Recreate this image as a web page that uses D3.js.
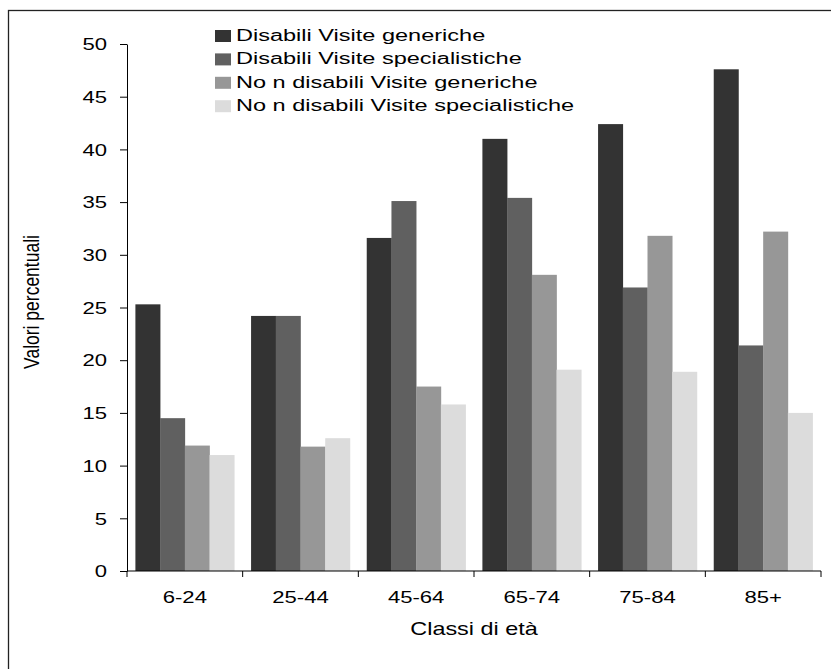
<!DOCTYPE html>
<html>
<head>
<meta charset="utf-8">
<script src="https://cdn.jsdelivr.net/npm/d3@7"></script>
<style>
  body { margin: 0; background: #fff; }
  svg { display: block; }
  text { font-family: "Liberation Sans", Arial, sans-serif; fill: #000; }
</style>
</head>
<body>
<div id="chart"></div>
<script>
// age classes
var ageClasses = ["6-24", "25-44", "45-64", "65-74", "75-84", "85+"];
var seriesNames = ["Disabili Visite generiche", "Disabili Visite specialistiche", "Non disabili Visite generiche", "Non disabili Visite specialistiche"];
var legendLabels = ["Disabili Visite generiche", "Disabili Visite specialistiche", "No n disabili Visite generiche", "No n disabili Visite specialistiche"];
var disGeneriche = [25.3, 24.2, 31.6, 41.0, 42.4, 47.6];
var disSpecialistiche = [14.5, 24.2, 35.1, 35.4, 26.9, 21.4];
var nonDisGeneriche = [11.9, 11.8, 17.5, 28.1, 31.8, 32.2];
var nonDisSpecialistiche = [11.0, 12.6, 15.8, 19.1, 18.9, 15.0];
var yTicks = [0, 5, 10, 15, 20, 25, 30, 35, 40, 45, 50];
var colors = ["#333333", "#606060", "#979797", "#dcdcdc"];

var allSeries = [disGeneriche, disSpecialistiche, nonDisGeneriche, nonDisSpecialistiche];

var W = 831, H = 669;
var plotLeft = 127, plotRight = 821, plotTop = 44, plotBottom = 571;
var SX = 1.3; // the picture is stretched horizontally

var svg = d3.select("#chart").append("svg").attr("width", W).attr("height", H);

// outer frame (right and bottom sides fall outside the picture)
svg.append("rect").attr("x", 8.5).attr("y", 10.5).attr("width", 900).attr("height", 900)
    .attr("fill", "none").attr("stroke", "#222").attr("stroke-width", 1.3);

var x0 = d3.scaleBand().domain(ageClasses).range([plotLeft, plotRight]).paddingInner(0).paddingOuter(0);
var x1 = d3.scaleBand().domain(seriesNames).range([0, x0.bandwidth()]).paddingInner(0).paddingOuter(0.34);
var y = d3.scaleLinear().domain([0, 50]).range([plotBottom, plotTop]);

// bars
seriesNames.forEach(function(s, si) {
    svg.append("g").selectAll("rect").data(allSeries[si]).enter().append("rect")
        .attr("x", (d, i) => x0(ageClasses[i]) + x1(s))
        .attr("y", d => y(d))
        .attr("width", x1.bandwidth() + 0.3)
        .attr("height", d => y(0) - y(d))
        .attr("fill", colors[si]);
});

// y axis
var yAxis = svg.append("g").attr("transform", "translate(" + plotLeft + ",0)")
    .call(d3.axisLeft(y).tickValues(yTicks).tickSize(7).tickSizeOuter(0));
yAxis.select(".domain").attr("stroke", "#000");
yAxis.selectAll(".tick line").attr("stroke", "#000");
yAxis.selectAll(".tick text").attr("font-size", 17).attr("x", -20 / SX).attr("dy", "0.34em")
    .attr("transform", "scale(" + SX + ",1)")
    .style("font-family", "Liberation Sans, Arial, sans-serif");

// x axis: line, boundary ticks, centred labels
var xAxis = svg.append("g").attr("transform", "translate(0," + plotBottom + ")");
xAxis.append("line").attr("x1", plotLeft).attr("x2", plotRight).attr("stroke", "#000");
var bounds = ageClasses.map(c => x0(c)).concat([plotRight]);
xAxis.selectAll(".bt").data(bounds).enter().append("line").attr("class", "bt")
    .attr("x1", d => d).attr("x2", d => d).attr("y1", 0).attr("y2", 6).attr("stroke", "#000");
xAxis.selectAll(".xl").data(ageClasses).enter().append("text").attr("class", "xl")
    .attr("transform", d => "translate(" + (x0(d) + x0.bandwidth() / 2) + ",32) scale(" + SX + ",1)")
    .attr("text-anchor", "middle").attr("font-size", 17).text(d => d);

// axis titles
svg.append("text").attr("transform", "translate(474,635) scale(" + SX + ",1)")
    .attr("text-anchor", "middle").attr("font-size", 18).text("Classi di età");
svg.append("text").attr("transform", "translate(39,302) scale(" + SX + ",1) rotate(-90)")
    .attr("text-anchor", "middle").attr("font-size", 17.5).text("Valori percentuali");

// legend
var legend = svg.append("g");
legendLabels.forEach(function(lab, i) {
    var by = 41 + i * 23.4;
    legend.append("rect").attr("x", 215).attr("y", by - 11).attr("width", 16).attr("height", 12).attr("fill", colors[i]);
    legend.append("text").attr("transform", "translate(236," + by + ") scale(1.47,1)")
        .attr("font-size", 16).text(lab);
});
</script>
</body>
</html>
